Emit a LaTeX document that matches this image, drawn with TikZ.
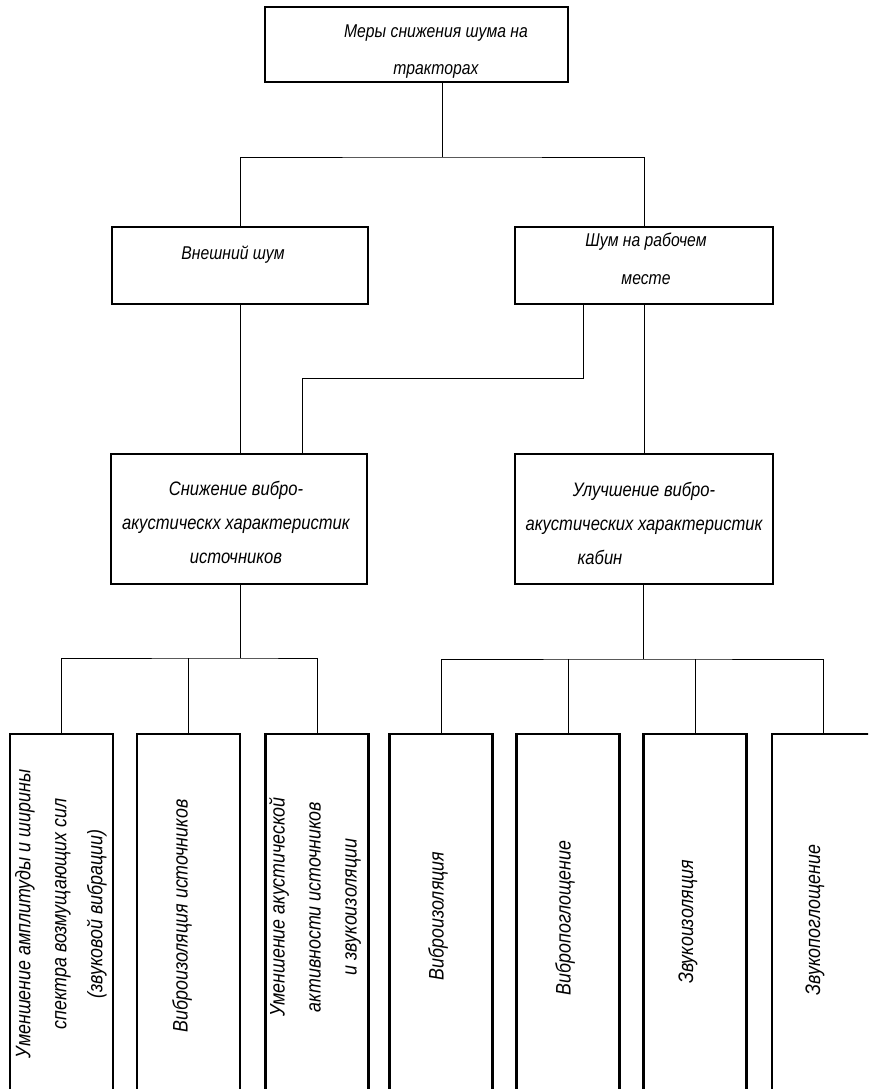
\documentclass[tikz,border=0pt]{standalone}
\usepackage{fontspec}
\setmainfont{Liberation Sans}[FakeStretch=0.85]
\begin{document}
\begin{tikzpicture}[x=1pt,y=-1pt,
  box/.style={draw,line width=2.3pt,inner sep=0pt,anchor=center},
  tall/.style={box,minimum width=103pt,minimum height=386pt},
  txt/.style={align=center,inner sep=0pt,font=\itshape\fontsize{18.5}{37}\selectfont},
  midtxt/.style={align=center,inner sep=0pt,font=\itshape\fontsize{19.5}{34}\selectfont},
  vtxt/.style={align=center,inner sep=0pt,rotate=90,font=\itshape\fontsize{21}{36}\selectfont},
  link/.style={draw,line width=0.9pt}]
\useasboundingbox (0,0) rectangle (868,1089);
\clip (0,0) rectangle (868,1089);
\fill[white] (0,0) rectangle (868,1089);

% boxes
\node[box,minimum width=303pt,minimum height=75pt] (top) at (416.5,44.5) {};
\node[box,minimum width=256pt,minimum height=77pt] (ext) at (240,265.5) {};
\node[box,minimum width=258pt,minimum height=77pt] (work) at (644,265.5) {};
\node[box,minimum width=256pt,minimum height=130pt] (src) at (239,519) {};
\node[box,minimum width=258pt,minimum height=130pt] (cab) at (644,519) {};
\node[tall] (b1) at (61.5,927) {};
\node[tall] (b2) at (188.5,927) {};
\node[tall] (b3) at (317,927) {};
\node[tall] (b4) at (441,927) {};
\node[tall] (b5) at (568,927) {};
\node[tall] (b6) at (695,927) {};
\node[tall] (b7) at (823.5,927) {};

% texts
\node[txt] (topT) at (436,52) {Меры снижения шума на\\тракторах};
\node[txt] (extT) at (233,255) {Внешний шум};
\node[txt,font=\itshape\fontsize{18.5}{38}\selectfont] (workT) at (646,259) {Шум на рабочем\\месте};
\node[midtxt] (srcT) at (236,522) {Снижение вибро-\\акустическх характеристик\\источников};
\node[midtxt] (cabT) at (644,523) {Улучшение вибро-\\акустических характеристик\\кабин\hspace*{88pt}};
\node[vtxt] (b1T) at (61,914) {Уменшение амплитуды и ширины\\спектра возмущающих сил\\(звуковой вибрации)};
\node[vtxt] (b2T) at (182,916) {Виброизоляция источников};
\node[vtxt] (b3T) at (315,907) {Уменшение акустической\\активности источников\\и звукоизоляции};
\node[vtxt] (b4T) at (438,916) {Виброизоляция};
\node[vtxt] (b5T) at (565,918) {Вибропоглощение};
\node[vtxt] (b6T) at (688,922) {Звукоизоляция};
\node[vtxt] (b7T) at (815,920) {Звукопоглощение};

% connectors
\coordinate (j1) at (442,157);
\coordinate (j2) at (302,378);
\coordinate (j3) at (240,658);
\coordinate (j4) at (643,659);
\draw[link] (top.south -| j1) -- (j1);
\draw[link] (ext.north) |- (j1) -| (work.north);
\draw[link] (ext.south) -- (ext.south |- src.north);
\draw[link] ([xshift=-61pt]work.south) |- (j2) -- (j2 |- src.north);
\draw[link] (work.south) -- (cab.north);
\draw[link] (src.south -| j3) -- (j3);
\draw[link] (b1.north) |- (j3) -| (b3.north);
\draw[link] (b2.north) -- (b2.north |- j3);
\draw[link] (cab.south -| j4) -- (j4);
\draw[link] (b4.north) |- (j4) -| (b7.north);
\draw[link] (b5.north) -- (b5.north |- j4);
\draw[link] (b6.north) -- (b6.north |- j4);
\end{tikzpicture}
\end{document}
